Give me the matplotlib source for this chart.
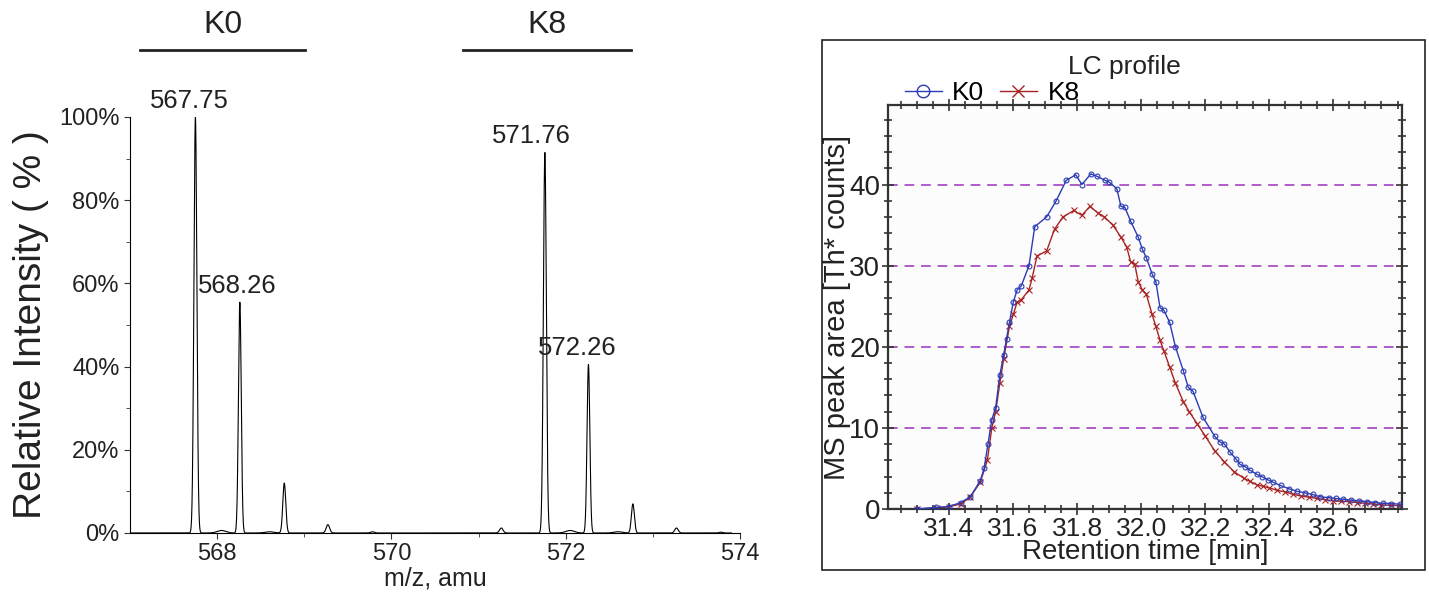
import numpy as np
import matplotlib
matplotlib.use("Agg")
import matplotlib.pyplot as plt
from matplotlib.ticker import MultipleLocator, FixedLocator, PercentFormatter
from matplotlib.lines import Line2D
from matplotlib.patches import Rectangle

plt.rcParams['font.family'] = ['Liberation Sans', 'DejaVu Sans']

# ---- mass spectrum (left) ----
peak_mz = [567.75, 568.05, 568.26, 568.60, 568.77, 569.27, 569.78,
           571.26, 571.76, 572.05, 572.26, 572.60, 572.77, 573.27, 573.78]
peak_int = [100, 0.6, 55.5, 0.3, 12, 2.0, 0.3,
            1.2, 91.5, 0.6, 40.5, 0.3, 7.0, 1.2, 0.2]
peak_sigma = [0.017, 0.05, 0.016, 0.05, 0.017, 0.02, 0.02,
              0.02, 0.017, 0.05, 0.016, 0.05, 0.017, 0.02, 0.02]
labelled = ["567.75", "568.26", "571.76", "572.26"]
label_dx = [-0.07, -0.03, -0.15, -0.13]

# ---- LC profile (right) ----
rt_k0 = [31.30, 31.36, 31.40, 31.437, 31.467, 31.498, 31.51, 31.522, 31.534, 31.546,
         31.559, 31.571, 31.58, 31.589, 31.601, 31.613, 31.626, 31.65, 31.668, 31.705,
         31.735, 31.766, 31.796, 31.815, 31.843, 31.863, 31.888, 31.90, 31.924, 31.937,
         31.949, 31.967, 31.991, 32.004, 32.016, 32.034, 32.046, 32.059, 32.071, 32.089,
         32.107, 32.132, 32.147, 32.162, 32.193, 32.229, 32.245, 32.26, 32.278, 32.295,
         32.309, 32.325, 32.339, 32.36, 32.376, 32.395, 32.412, 32.435, 32.461, 32.485,
         32.51, 32.535, 32.559, 32.585, 32.607, 32.63, 32.656, 32.68, 32.705, 32.73,
         32.754, 32.78, 32.809]
k0 = [0.0, 0.2, 0.3, 0.8, 1.5, 3.5, 5.0, 8.0, 11.0, 12.5,
      16.5, 19.0, 21.0, 23.0, 25.5, 27.0, 27.5, 30.0, 34.8, 36.0,
      38.0, 40.5, 41.2, 40.0, 41.3, 41.0, 40.5, 40.3, 39.5, 37.3,
      37.2, 35.5, 33.5, 32.0, 31.0, 29.0, 28.0, 24.8, 24.5, 23.0,
      20.0, 17.0, 15.0, 14.5, 11.3, 9.0, 8.3, 8.0, 7.0, 6.2,
      5.5, 5.2, 4.8, 4.3, 4.0, 3.6, 3.3, 2.9, 2.5, 2.2,
      2.0, 1.8, 1.5, 1.4, 1.3, 1.2, 1.1, 1.0, 0.9, 0.8,
      0.7, 0.65, 0.6]
rt_k8 = [31.30, 31.363, 31.40, 31.437, 31.467, 31.498, 31.52, 31.534, 31.546, 31.559,
         31.571, 31.589, 31.601, 31.613, 31.626, 31.65, 31.66, 31.675, 31.705, 31.73,
         31.756, 31.79, 31.815, 31.84, 31.865, 31.885, 31.912, 31.937, 31.955, 31.967,
         31.98, 31.991, 32.004, 32.016, 32.034, 32.046, 32.059, 32.071, 32.089, 32.107,
         32.132, 32.15, 32.175, 32.20, 32.229, 32.26, 32.29, 32.32, 32.34, 32.36,
         32.38, 32.40, 32.425, 32.45, 32.475, 32.50, 32.525, 32.55, 32.575, 32.60,
         32.625, 32.65, 32.675, 32.70, 32.725, 32.75, 32.78, 32.81]
k8 = [0.0, 0.1, 0.3, 0.6, 1.5, 3.3, 6.0, 10.0, 12.0, 15.5,
      18.5, 22.5, 24.0, 25.5, 25.8, 27.0, 28.5, 31.2, 31.8, 34.5,
      36.0, 36.8, 36.2, 37.3, 36.5, 36.0, 35.0, 33.5, 32.3, 30.5,
      30.2, 28.0, 27.0, 26.5, 24.0, 22.5, 20.8, 19.5, 17.5, 15.5,
      13.2, 12.0, 10.5, 9.0, 7.2, 5.8, 4.6, 3.8, 3.4, 3.0,
      2.8, 2.6, 2.3, 2.1, 1.8, 1.6, 1.45, 1.3, 1.15, 1.0,
      0.95, 0.9, 0.8, 0.7, 0.6, 0.5, 0.45, 0.4]

fig = plt.figure(figsize=(14.29, 5.92), dpi=100)

# ---------------- left panel ----------------
ax1 = fig.add_axes([0.091, 0.0997, 0.4269, 0.7027])
mz = np.linspace(567.0, 573.9, 6000)
spec = np.zeros_like(mz)
for m, h, s in zip(peak_mz, peak_int, peak_sigma):
    spec += h * np.exp(-0.5 * ((mz - m) / s) ** 2)
ax1.plot(mz, spec, color='black', lw=0.8)
ax1.set_xlim(567, 574)
ax1.set_ylim(0, 100)
ax1.spines['top'].set_visible(False)
ax1.spines['right'].set_visible(False)
ax1.xaxis.set_major_locator(FixedLocator([568, 570, 572, 574]))
ax1.xaxis.set_minor_locator(FixedLocator([569, 571, 573]))
ax1.yaxis.set_major_locator(MultipleLocator(20))
ax1.yaxis.set_minor_locator(MultipleLocator(10))
ax1.yaxis.set_major_formatter(PercentFormatter(decimals=0))
ax1.tick_params(axis='both', which='major', labelsize=17, length=4, color='#333333',
                labelcolor='#222222')
ax1.tick_params(axis='both', which='minor', length=3, color='#333333')
ax1.set_xlabel('m/z, amu', fontsize=18, color='#222222', labelpad=1)
ax1.set_ylabel('Relative Intensity ( % )', fontsize=28, color='#222222', labelpad=7)

for lab, dx in zip(labelled, label_dx):
    i = peak_mz.index(float(lab))
    ax1.text(peak_mz[i] + dx, peak_int[i] + 1, lab, ha='center', va='bottom',
             fontsize=18.5, color='#222222', clip_on=False)

# K0 / K8 bars above the spectrum
trans = ax1.get_xaxis_transform()
for name, x0, x1 in [('K0', 567.12, 569.01), ('K8', 570.82, 572.75)]:
    ax1.plot([x0, x1], [1.161, 1.161], color='#222222', lw=2, transform=trans,
             clip_on=False)
    ax1.text((x0 + x1) / 2, 1.185, name, transform=trans, ha='center', va='bottom',
             fontsize=23, color='#222222')

# ---------------- right panel ----------------
fig.add_artist(Rectangle((0.5752, 0.0372), 0.422, 0.8953, transform=fig.transFigure,
                         fill=False, edgecolor='#222222', lw=1.2))
ax2 = fig.add_axes([0.6214, 0.1402, 0.3597, 0.6824])
ax2.set_facecolor('#fcfcfc')
for y in [10, 20, 30, 40]:
    ax2.axhline(y, color='#b05cc8', lw=1.4, ls=(0, (5, 3.5)), zorder=1)
ax2.axhline(0, color='#b05cc8', lw=1.6, zorder=1)

blue = '#2b3cb4'
red = '#a82222'
ax2.plot(rt_k0, k0, color=blue, lw=1.0, marker='o', ms=3.5, mfc='none', mew=0.8, zorder=3)
ax2.plot(rt_k8, k8, color=red, lw=1.0, marker='x', ms=4.5, mew=0.8, zorder=2)

ax2.set_xlim(31.21, 32.814)
ax2.set_ylim(0, 49.8)
ax2.xaxis.set_major_locator(FixedLocator([31.4, 31.6, 31.8, 32.0, 32.2, 32.4, 32.6]))
ax2.xaxis.set_minor_locator(MultipleLocator(0.05))
ax2.yaxis.set_major_locator(MultipleLocator(10))
ax2.yaxis.set_minor_locator(MultipleLocator(2))
ax2.xaxis.set_major_formatter(plt.FuncFormatter(lambda v, p: '%.1f' % v))
ax2.tick_params(axis='both', which='both', top=True, right=True, direction='inout',
                color='#333333', width=1.2, labelcolor='#222222')
ax2.tick_params(axis='both', which='major', length=9)
ax2.tick_params(axis='both', which='minor', length=6)
ax2.tick_params(axis='x', pad=1, labelsize=19)
ax2.tick_params(axis='y', pad=1, labelsize=20)
for sp in ax2.spines.values():
    sp.set_color('#333333')
    sp.set_linewidth(1.6)
ax2.set_xlabel('Retention time [min]', fontsize=20, color='#222222', labelpad=-1)
ax2.set_ylabel('MS peak area [Th* counts]', fontsize=21, color='#222222')
ax2.yaxis.set_label_coords(-0.072, 0.5)

fig.text(0.787, 0.887, 'LC profile', ha='center', va='center', fontsize=19,
         color='#222222')
handles = [Line2D([], [], color=blue, lw=1.0, marker='o', ms=9, mfc='none', mew=1.0),
           Line2D([], [], color=red, lw=1.0, marker='x', ms=9, mew=1.0)]
fig.legend(handles, ['K0', 'K8'], loc='center left', bbox_to_anchor=(0.633, 0.843),
           ncol=2, frameon=False, fontsize=19, handlelength=1.4, handletextpad=0.4,
           columnspacing=0.6, borderpad=0, borderaxespad=0)

fig.savefig('out.png', dpi=100)
